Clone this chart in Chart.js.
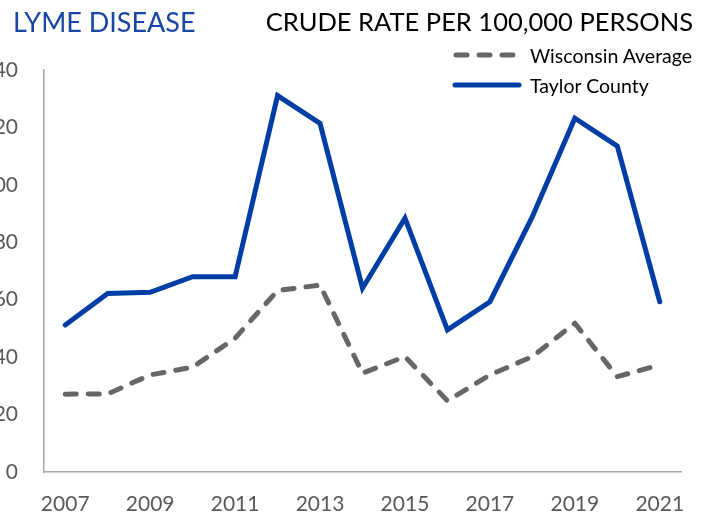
<!DOCTYPE html>
<html>
<head>
<meta charset="utf-8">
<script src="https://cdn.jsdelivr.net/npm/chart.js@4.4.0/dist/chart.umd.min.js"></script>
<style>
  body { margin: 0; width: 710px; height: 518px; overflow: hidden; background: #fff; position: relative; font-family: Lato, sans-serif; }
  #wrap { position: absolute; left: -30px; top: 0; width: 740px; height: 518px; }
  .ttl-left { position: absolute; left: 13px; top: 5px; font-size: 27px; color: #1846a3; }
  .ttl-right { position: absolute; right: 17px; top: 6px; font-size: 25.5px; color: #000; }
  .legend { position: absolute; left: 452px; top: 40px; font-size: 19.5px; color: #000; }
  .legend div { height: 30px; display: flex; align-items: center; }
  .legend svg { margin-right: 8px; }
</style>
</head>
<body>
<div id="wrap"><canvas id="chart"></canvas></div>
<div class="ttl-left">LYME DISEASE</div>
<div class="ttl-right">CRUDE RATE PER 100,000 PERSONS</div>
<div class="legend">
  <div><svg width="70" height="8"><line x1="4" y1="4" x2="66" y2="4" stroke="#666" stroke-width="5" stroke-linecap="round" stroke-dasharray="11 12"/></svg>Wisconsin Average</div>
  <div><svg width="70" height="8"><line x1="3" y1="4" x2="67" y2="4" stroke="#003da5" stroke-width="5" stroke-linecap="round"/></svg>Taylor County</div>
</div>
<script>
// data
const years = ['2007', '2008', '2009', '2010', '2011', '2012', '2013', '2014', '2015', '2016', '2017', '2018', '2019', '2020', '2021'];
const wisconsin = [27.1, 27.2, 33.8, 36.5, 46.6, 63.2, 65.1, 34.4, 40.2, 24.8, 33.8, 40.2, 51.8, 33.2, 37.3];
const taylor = [51.2, 62.2, 62.6, 68.0, 68.0, 131.1, 121.4, 64.0, 88.4, 49.5, 59.3, 88.9, 123.2, 113.5, 59.3];

const tickFont = { family: 'Lato, sans-serif', size: 21 };

new Chart(document.getElementById('chart'), {
	type: 'line',
	data: {
		labels: years,
		datasets: [{
			label: 'Wisconsin Average',
			data: wisconsin,
			borderColor: '#666666',
			borderWidth: 5,
			borderDash: [11, 12],
			borderCapStyle: 'round',
			borderJoinStyle: 'round',
			pointRadius: 0,
			tension: 0
		}, {
			label: 'Taylor County',
			data: taylor,
			borderColor: '#003da5',
			borderWidth: 5,
			borderCapStyle: 'round',
			borderJoinStyle: 'miter',
			pointRadius: 0,
			tension: 0
		}]
	},
	options: {
		responsive: true,
		maintainAspectRatio: false,
		animation: false,
		layout: {
			padding: { top: 70, right: 29, left: 0, bottom: 0 }
		},
		plugins: {
			legend: { display: false },
			tooltip: { enabled: false }
		},
		scales: {
			x: {
				offset: true,
				grid: { display: false, drawTicks: false },
				border: { color: '#a6a6a6', width: 1.5 },
				ticks: {
					autoSkip: false,
					maxRotation: 0,
					padding: 20,
					color: '#595959',
					font: tickFont,
					callback: function (val, i) {
						return i % 2 === 0 ? years[i] : '';
					}
				},
				afterFit(scale) { scale.height = 46; }
			},
			y: {
				min: 0,
				max: 140,
				grid: { display: false, drawTicks: false },
				border: { color: '#a6a6a6', width: 1.5 },
				ticks: {
					stepSize: 20,
					padding: 26,
					color: '#595959',
					font: tickFont
				},
				afterFit(scale) { scale.width = 74; }
			}
		}
	}
});
</script>
</body>
</html>
